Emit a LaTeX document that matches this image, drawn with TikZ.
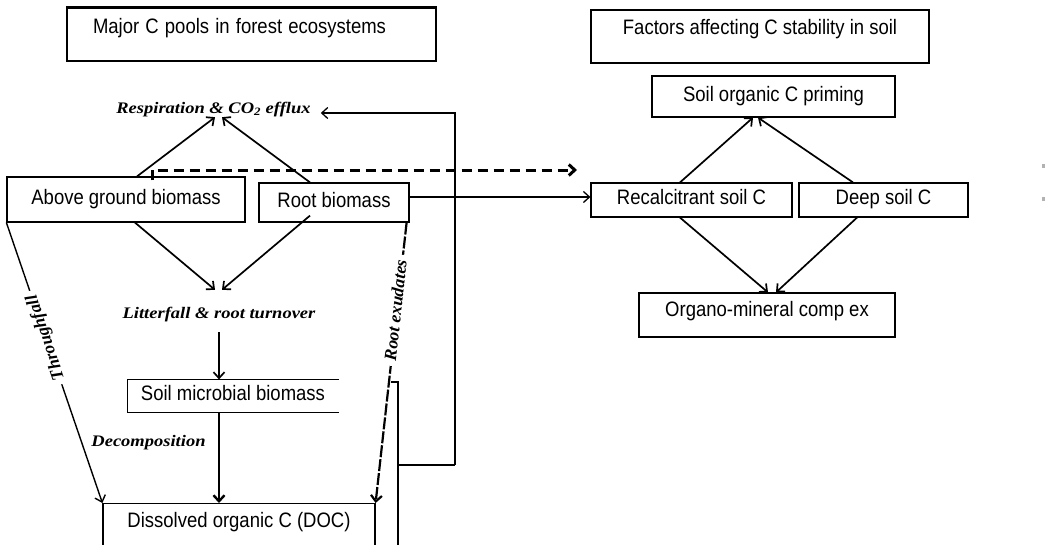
\documentclass[tikz,border=0pt]{standalone}
\usepackage{fontspec}
\setmainfont{Liberation Sans}
\newfontfamily\tnr{Liberation Serif}
\usetikzlibrary{arrows.meta,calc}
\newcommand{\tallt}[1]{\scalebox{1}[1.13]{#1}}
\newcommand{\flatt}[1]{\scalebox{1}[0.87]{#1}}
\begin{document}
\begin{tikzpicture}[x=1pt,y=-1pt,
  box/.style={draw, line width=1.2pt, inner sep=0pt, text height=13pt, text depth=4pt, font=\fontsize{18.5}{22}\selectfont},
  lab/.style={inner sep=0pt, text height=13pt, text depth=4pt, font=\tnr\bfseries\itshape\fontsize{18.5}{22}\selectfont},
  rlab/.style={lab, fill=white, inner xsep=5pt, font=\tnr\bfseries\itshape\fontsize{17.5}{20}\selectfont},
  arr/.style={line width=1.7pt, -{Straight Barb[length=6pt,width=11pt]}},
]
\useasboundingbox (0,0) rectangle (1045,544);
\fill[white] (0,0) rectangle (1045,544);

% titles
\node[box, minimum width=369pt, minimum height=53pt, text depth=15pt, text width=317pt, align=left] (t1) at (251.5,34.5) {\tallt{Major C pools in forest ecosystems}};
\draw[line width=3pt] (t1.north west) -- (t1.north east);
\node[box, minimum width=338pt, minimum height=53pt, text depth=16.8pt] (t2) at (760,36.5) {\tallt{Factors affecting C stability in soil}};

% right side
\node[box, minimum width=243pt, minimum height=41pt] (prim) at (773.5,96.5) {\tallt{Soil organic C priming}};
\node[box, minimum width=201pt, minimum height=34pt] (recal) at (691.5,200) {\tallt{Recalcitrant soil C}};
\node[box, minimum width=169pt, minimum height=34pt] (deep) at (883.5,200) {\tallt{Deep soil C}};
\node[box, minimum width=256pt, minimum height=44pt, text depth=10pt] (org) at (767,315) {\tallt{Organo-mineral comp ex}};

% left side
\node[box, minimum width=238pt, minimum height=45pt] (ag) at (126,199.5) {\tallt{Above ground biomass}};
\node[box, minimum width=150pt, minimum height=39pt] (root) at (334,202.5) {\tallt{Root biomass}};
\node[box, draw=none, minimum width=210pt, minimum height=32pt] (micro) at (233,396) {\tallt{Soil microbial biomass}};
\draw[line width=1.2pt] (micro.north east) -- (micro.north west) -- (micro.south west) -- (micro.south east);
\node[box, minimum width=272pt, minimum height=60pt, anchor=north, text depth=25.8pt] (doc) at (239,503) {\tallt{Dissolved organic C (DOC)}};

% italic labels
\node[lab] (resp) at (213.5,108.5) {\flatt{Respiration \& CO\textsubscript{2} efflux}};
\node[lab] (litter) at (219,313.5) {\flatt{Litterfall \& root turnover}};
\node[lab] (decomp) at (148.5,441.5) {\flatt{Decomposition}};

% arrows to respiration
\draw[arr] ([xshift=11pt]ag.north) -- ([xshift=1.5pt]resp.south);
\draw[arr] ([xshift=-24pt]root.north) -- ([xshift=8.5pt]resp.south);
% arrows to litterfall
\draw[arr] ([xshift=9pt]ag.south) -- ([xshift=-4pt,yshift=15pt]litter.north);
\draw[arr] ([xshift=-24pt,yshift=7pt]root.south) -- ([xshift=3pt,yshift=15pt]litter.north);
\draw[arr] ([yshift=-10pt]litter.south) -- (litter.south |- micro.north);
\draw[arr, line width=2.4pt] (litter.south |- micro.south) -- (litter.south |- doc.north);

% throughfall and root exudates
\draw[arr, line width=1.4pt] (ag.south west) -- node[rlab, pos=0.41, rotate=108.7] (thr) {Throughfall} (doc.north west);
\draw[arr, line width=2.2pt, dash pattern=on 12pt off 2pt] ([xshift=-3pt]root.south east) -- node[rlab, pos=0.313, rotate=83.7] (rex) {Root exudates} (doc.north east);

% right side arrows
\draw[arr] ([xshift=-11.5pt]recal.north) -- ([xshift=-20.5pt]prim.south);
\draw[arr] ([xshift=-30.5pt]deep.north) -- ([xshift=-15.5pt]prim.south);
\draw[arr] ([xshift=-11.5pt]recal.south) -- ([xshift=1pt]org.north);
\draw[arr] ([xshift=-26.5pt]deep.south) -- ([xshift=9pt]org.north);

% connections between the halves
\draw[arr, line width=1.3pt] ([yshift=3pt]recal.west -| root.east) -- ([yshift=3pt]recal.west);
\coordinate (dashend) at (577,170);
\draw[arr, line width=3pt, dash pattern=on 10pt off 6pt] ([xshift=26pt,yshift=-4pt]ag.north) |- (dashend);

% return loop
\coordinate (hk) at (391,382);
\coordinate (vt) at (398,382);
\coordinate (vb) at (398,560);
\coordinate (jn) at (398,465);
\coordinate (c1) at (455,465);
\coordinate (c2) at (455,113);
\draw[line width=2.8pt] (hk) -- (vt) -- (vb);
\draw[line width=2.6pt] (jn) -- (c1);
\draw[arr, line width=1.3pt] (c1) -- (c2) -- ([xshift=10pt,yshift=-4.5pt]resp.east);

% faint marks at right edge
\fill[gray!60] (1042,164) rectangle (1045,168);
\fill[gray!60] (1042,197) rectangle (1045,201);
\end{tikzpicture}
\end{document}
